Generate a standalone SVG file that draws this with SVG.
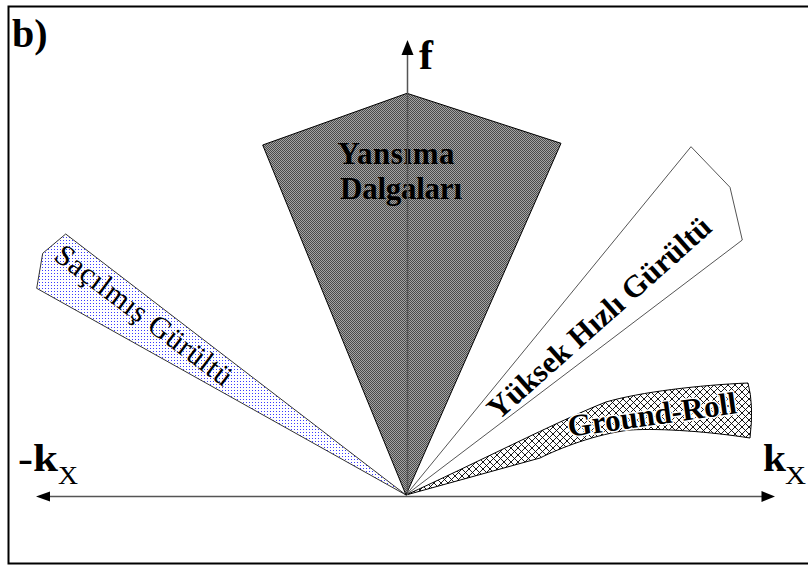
<svg xmlns="http://www.w3.org/2000/svg" width="808" height="565" viewBox="0 0 808 565">
<style>
.lbl{font-family:"Liberation Serif","Times New Roman",serif;fill:#000}
.b{font-weight:bold}
.ax{stroke:#555;stroke-width:1.5;fill:none}
.head{fill:#000;stroke:none}
</style>
<defs>
<pattern id="dither" width="2" height="2" patternUnits="userSpaceOnUse">
<rect width="2" height="2" fill="#a4a4a4"/>
<rect width="1" height="1" fill="#4a4a4a"/>
<rect x="1" y="1" width="1" height="1" fill="#4a4a4a"/>
</pattern>
<pattern id="dots" width="3" height="3" patternUnits="userSpaceOnUse">
<rect width="3" height="3" fill="#fff"/>
<rect width="1" height="1" fill="#3a3aff"/>
</pattern>
<pattern id="hatch" width="7" height="7" patternUnits="userSpaceOnUse">
<rect width="7" height="7" fill="#fff"/>
<path d="M0,0 L7,7 M7,0 L0,7" stroke="#000" stroke-width="0.9"/>
</pattern>
</defs>
<rect x="0" y="0" width="808" height="565" fill="#fff"/>
<rect x="8.5" y="6.5" width="810" height="557" fill="none" stroke="#000" stroke-width="2"/>

<g id="sacilmis">
<polygon points="65.7,234 42.7,253.3 36.7,288.3 406,495" fill="url(#dots)" stroke="#333" stroke-width="1"/>
<text class="lbl" x="138" y="323" font-size="30" text-anchor="middle" textLength="214" lengthAdjust="spacing" transform="rotate(36.9 138 323)">Saçılmış Gürültü</text>
</g>

<g id="yuksek">
<polygon points="691,146.7 730,187.3 742.3,240 406,495" fill="#fff" stroke="#555" stroke-width="1"/>
<text class="lbl b" x="606" y="325.5" font-size="31" text-anchor="middle" textLength="288" lengthAdjust="spacing" transform="rotate(-41.6 606 325.5)">Yüksek Hızlı Gürültü</text>
</g>

<g id="groundroll">
<path d="M406,495 C470,466 560,420 606,402 C640,392 700,385 748,383 Q754,405 750,438 C712,432 662,428 630,430 C596,434 560,448 540,458 Z" fill="url(#hatch)" stroke="#000" stroke-width="1"/>
<text class="lbl b" x="653.5" y="425" font-size="31" text-anchor="middle" textLength="170" lengthAdjust="spacing" transform="rotate(-8 653.5 425)" stroke="#fff" stroke-width="3" paint-order="stroke" stroke-linejoin="round">Ground-Roll</text>
</g>

<g id="yansima">
<polygon points="407,93.3 561,143.3 406,495 262.7,145" fill="url(#dither)" stroke="#000" stroke-width="1"/>
<text class="lbl b" x="396" y="164" font-size="31" text-anchor="middle" fill="#1a1a1a" textLength="117" lengthAdjust="spacing">Yansıma</text>
<text class="lbl b" x="401" y="199" font-size="31" text-anchor="middle" fill="#1a1a1a" textLength="122" lengthAdjust="spacing">Dalgaları</text>
</g>

<g id="connectors">
<line class="ax" x1="407.5" y1="495" x2="407.5" y2="52"/>
<polygon class="head" points="407.5,40 401.5,55 413.5,55"/>
<line class="ax" x1="46" y1="496.5" x2="765" y2="496.5"/>
<polygon class="head" points="36,496.5 50,491.5 50,501.5"/>
<polygon class="head" points="775,496.5 761.5,491 761.5,502"/>
</g>

<g id="labels">
<text class="lbl b" x="12" y="47" font-size="40">b)</text>
<text class="lbl b" x="419" y="69" font-size="42">f</text>
<text class="lbl b" x="18" y="471" font-size="38" textLength="40" lengthAdjust="spacingAndGlyphs">-k</text>
<text class="lbl" x="58" y="484" font-size="26" textLength="20" lengthAdjust="spacingAndGlyphs">X</text>
<text class="lbl b" x="763" y="471" font-size="38" textLength="23" lengthAdjust="spacingAndGlyphs">k</text>
<text class="lbl" x="785" y="484" font-size="26" textLength="21" lengthAdjust="spacingAndGlyphs">X</text>
</g>
</svg>
